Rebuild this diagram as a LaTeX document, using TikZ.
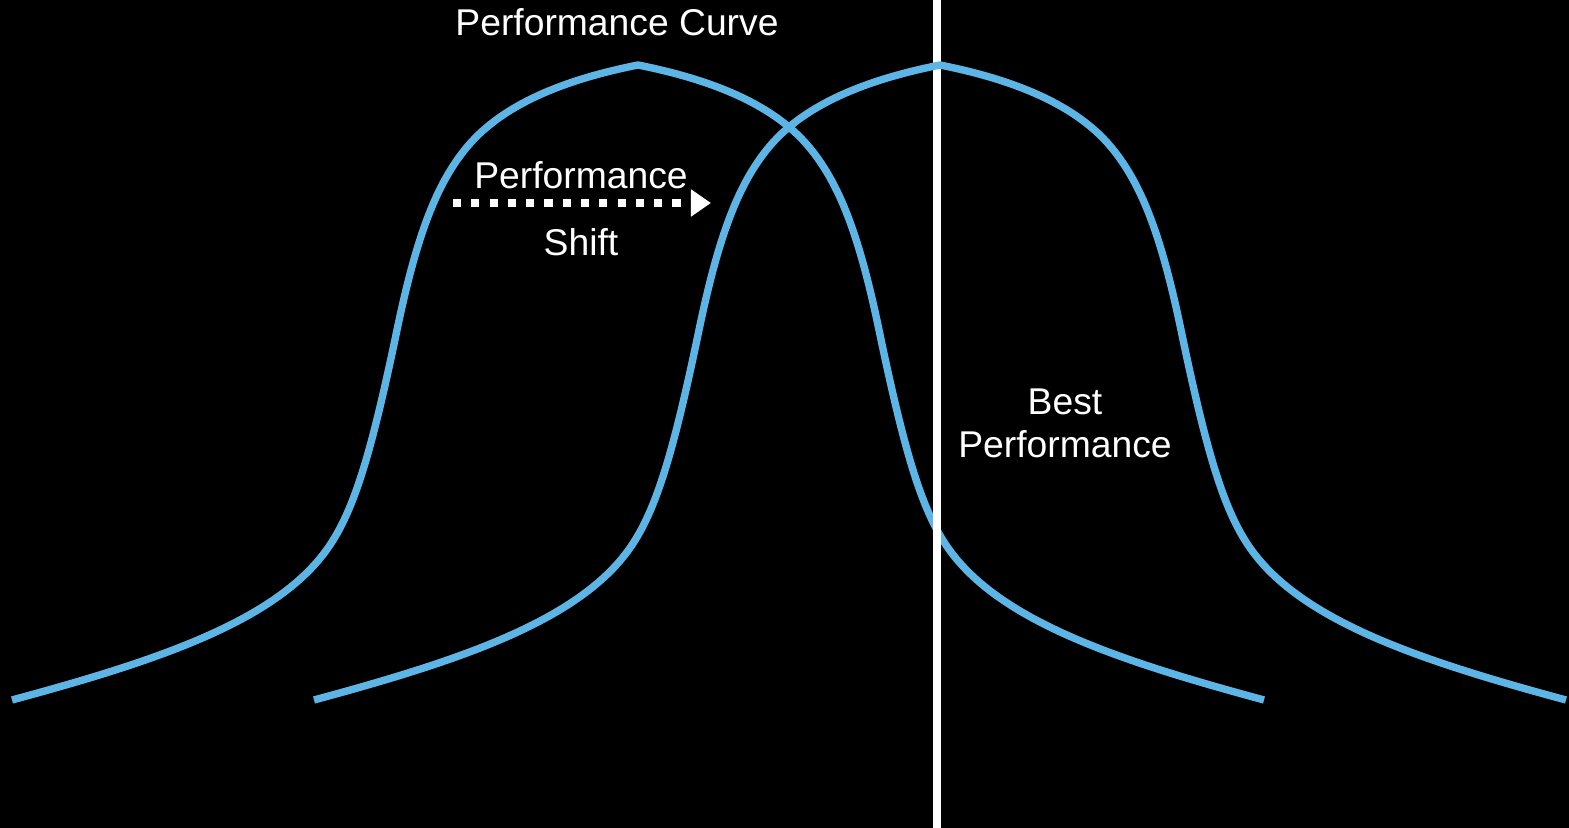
\documentclass[tikz,border=0pt]{standalone}
\usepackage{fontspec}
\setmainfont{Liberation Sans}
\usetikzlibrary{arrows.meta}
\definecolor{curveblue}{RGB}{93,181,229}
\tikzset{
  curve/.style={line width=2.1pt, color=curveblue, line join=round},
  label/.style={text=white, font=\fontsize{10.6}{12.2}\selectfont, align=center, inner sep=0pt},
  bestline/.style={line width=2pt, color=white},
  shiftarrow/.style={line width=2.3pt, color=white, dash pattern=on 2.3pt off 2.9pt,
    -{Triangle[length=0.2cm, width=0.26cm]}}
}
\def\bellcurve(#1){\draw[curve, shift={(#1,0)}] (12,700) .. controls (160,660) and (280,620) .. (330,545)
  .. controls (355,507.5) and (372,450) .. (397,330) .. controls (417,234) and (437,183) .. (467,147)
  .. controls (507,99) and (578,77) .. (638,65) .. controls (698,77) and (769,99) .. (809,147)
  .. controls (839,183) and (859,234) .. (879,330) .. controls (904,450) and (921,507.5) .. (946,545)
  .. controls (996,620) and (1116,660) .. (1264,700);}

\begin{document}
\begin{tikzpicture}[x=0.01cm, y=-0.01cm]
			%%%%% START %%%%%
			
			\fill[black] (0, 0) rectangle (1569, 828);
			\useasboundingbox (0, 0) rectangle (1569, 828);
			
			\bellcurve(0)
			
			\coordinate (besttop) at (937, 0);
			\coordinate (bestbottom) at (937, 828);
			\draw[bestline] (besttop) -- (bestbottom);
			
			\bellcurve(302)
			
			\node[label] (curvetitle) at (617, 22) {Performance Curve};
			\node[label] (shifttop) at (581, 175) {Performance};
			\node[label] (shiftbottom) at (581, 242) {Shift};
			\node[label] (bestperf) at (1065, 423) {Best\\Performance};
			
			\coordinate (shiftstart) at (453, 203);
			\coordinate (shiftend) at (711, 203);
			\draw[shiftarrow] (shiftstart) -- (shiftend);
			
			%%%%% END %%%%%
\end{tikzpicture}
\end{document}
